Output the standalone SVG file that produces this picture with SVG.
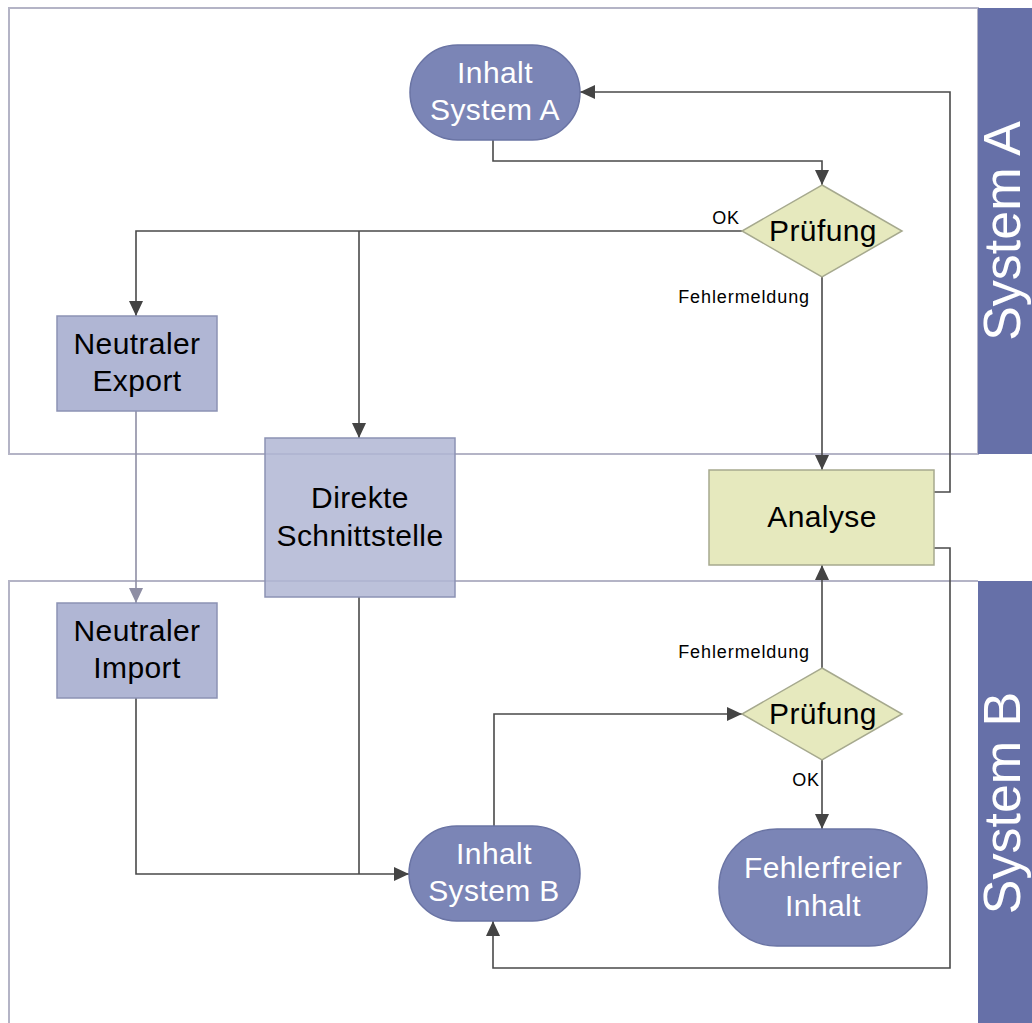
<svg xmlns="http://www.w3.org/2000/svg" width="1032" height="1023" viewBox="0 0 1032 1023">
  <style>
    .lane { fill: none; stroke: #b4b4c6; stroke-width: 2; }
    .band { fill: #6670a8; }
    .bandtxt { font-family: "Liberation Sans", Arial, sans-serif; font-size: 52px; fill: #ffffff; text-anchor: middle; }
    .term { fill: #7b85b6; stroke: #6a74a4; stroke-width: 1.5; }
    .proc { fill: #b0b6d4; stroke: #8c92b4; stroke-width: 1.5; }
    .dec { fill: #e6e9be; stroke: #a6a98e; stroke-width: 1.5; }
    .wtxt { font-family: "Liberation Sans", Arial, sans-serif; font-size: 30px; letter-spacing: 0.4px; fill: #ffffff; text-anchor: middle; }
    .btxt { font-family: "Liberation Sans", Arial, sans-serif; font-size: 30px; letter-spacing: 0.4px; fill: #000000; text-anchor: middle; }
    .lbl { font-family: "Liberation Sans", Arial, sans-serif; font-size: 18px; letter-spacing: 0.9px; fill: #000000; }
    .conn { fill: none; stroke: #4a4a4a; stroke-width: 1.6; }
    .conn-light { fill: none; stroke: #8e8ea4; stroke-width: 1.6; }
  </style>
  <defs>
    <marker id="arr" markerUnits="userSpaceOnUse" markerWidth="16" markerHeight="14" refX="15" refY="7" orient="auto">
      <path d="M0,0 L15,7 L0,14 Z" fill="#444444"/>
    </marker>
    <marker id="arr-light" markerUnits="userSpaceOnUse" markerWidth="16" markerHeight="14" refX="15" refY="7" orient="auto">
      <path d="M0,0 L15,7 L0,14 Z" fill="#8e8ea4"/>
    </marker>
  </defs>

  <rect width="1032" height="1023" fill="#ffffff"/>

  <!-- swimlanes -->
  <g id="lane-a">
    <rect class="lane" x="9" y="8" width="969" height="446"/>
    <rect class="band" x="978" y="8" width="54" height="446"/>
    <text class="bandtxt" transform="translate(1020,231) rotate(-90)">System A</text>
  </g>
  <g id="lane-b">
    <path class="lane" d="M9,1023 V581 H978"/>
    <rect class="band" x="978" y="581" width="54" height="442"/>
    <text class="bandtxt" transform="translate(1020,803) rotate(-90)">System B</text>
  </g>

  <!-- connectors -->
  <g id="connectors">
    <path class="conn" d="M493,140 V161 H822 V185" marker-end="url(#arr)"/>
    <path class="conn" d="M742,231 H136 V316" marker-end="url(#arr)"/>
    <path class="conn" d="M359,231 V438" marker-end="url(#arr)"/>
    <path class="conn" d="M822,277 V470" marker-end="url(#arr)"/>
    <path class="conn" d="M934,492 H950 V92 H580" marker-end="url(#arr)"/>
    <path class="conn" d="M934,548 H950 V968 H493 V921" marker-end="url(#arr)"/>
    <path class="conn-light" d="M136,411 V603" marker-end="url(#arr-light)"/>
    <path class="conn" d="M136,698 V874 H409" marker-end="url(#arr)"/>
    <path class="conn" d="M359,597 V874"/>
    <path class="conn" d="M494,826 V714 H742" marker-end="url(#arr)"/>
    <path class="conn" d="M822,668 V565" marker-end="url(#arr)"/>
    <path class="conn" d="M822,760 V829" marker-end="url(#arr)"/>
    <text class="lbl" x="740" y="224" text-anchor="end">OK</text>
    <text class="lbl" x="810" y="303" text-anchor="end">Fehlermeldung</text>
    <text class="lbl" x="810" y="658" text-anchor="end">Fehlermeldung</text>
    <text class="lbl" x="820" y="786" text-anchor="end">OK</text>
  </g>

  <!-- nodes -->
  <g id="inhalt-a">
    <rect class="term" x="410" y="45" width="170" height="95" rx="47.5"/>
    <text class="wtxt" x="495" y="83">Inhalt</text>
    <text class="wtxt" x="495" y="120">System A</text>
  </g>
  <g id="pruefung-a">
    <polygon class="dec" points="822,185 902,231 822,277 742,231"/>
    <text class="btxt" x="823" y="241">Prüfung</text>
  </g>
  <g id="neutraler-export">
    <rect class="proc" x="57" y="316" width="160" height="95"/>
    <text class="btxt" x="137" y="354">Neutraler</text>
    <text class="btxt" x="137" y="391">Export</text>
  </g>
  <g id="direkte-schnittstelle">
    <rect class="proc" x="265" y="438" width="190" height="159" fill-opacity="0.85"/>
    <text class="btxt" x="360" y="508">Direkte</text>
    <text class="btxt" x="360" y="546">Schnittstelle</text>
  </g>
  <g id="analyse">
    <rect class="dec" x="709" y="470" width="225" height="95"/>
    <text class="btxt" x="822" y="527">Analyse</text>
  </g>
  <g id="neutraler-import">
    <rect class="proc" x="57" y="603" width="160" height="95"/>
    <text class="btxt" x="137" y="641">Neutraler</text>
    <text class="btxt" x="137" y="678">Import</text>
  </g>
  <g id="inhalt-b">
    <rect class="term" x="409" y="826" width="171" height="95" rx="47.5"/>
    <text class="wtxt" x="494" y="864">Inhalt</text>
    <text class="wtxt" x="494" y="901">System B</text>
  </g>
  <g id="pruefung-b">
    <polygon class="dec" points="822,668 902,714 822,760 742,714"/>
    <text class="btxt" x="823" y="724">Prüfung</text>
  </g>
  <g id="fehlerfreier-inhalt">
    <rect class="term" x="719" y="829" width="208" height="117" rx="58"/>
    <text class="wtxt" x="823" y="878">Fehlerfreier</text>
    <text class="wtxt" x="823" y="916">Inhalt</text>
  </g>
</svg>
